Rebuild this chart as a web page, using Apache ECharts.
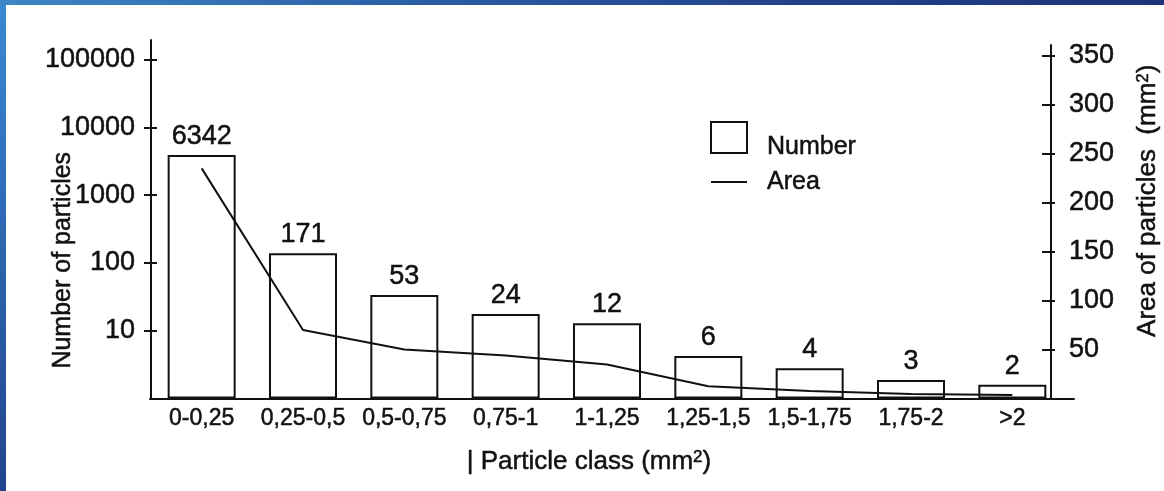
<!DOCTYPE html>
<html>
<head>
<meta charset="utf-8">
<script src="https://cdn.jsdelivr.net/npm/echarts@6/dist/echarts.min.js"></script>
<style>
  html, body { margin: 0; padding: 0; }
  body {
    width: 1164px; height: 491px; overflow: hidden; position: relative;
    background: linear-gradient(180deg, #3b8ad0 0%, #2f6db8 40%, #22448c 100%);
  }
  #topband {
    position: absolute; left: 0; top: 0; width: 1164px; height: 5px;
    background: linear-gradient(90deg, #3f86c6 0%, #2b5fa6 35%, #23408a 70%, #1d3478 100%);
  }
  #chart {
    position: absolute; left: 6px; top: 5px; width: 1158px; height: 486px;
    background: #ffffff;
  }
</style>
</head>
<body>
<div id="topband"></div>
<div id="chart"></div>
<script>
// ---- data ----
const categories = ['0-0,25', '0,25-0,5', '0,5-0,75', '0,75-1', '1-1,25', '1,25-1,5', '1,5-1,75', '1,75-2', '>2'];
// printed counts above the bars
const numberLabels = [6342, 171, 53, 24, 12, 6, 4, 3, 2];
// bar heights as drawn on the log axis
const numberBarHeights = [3930, 139, 33.7, 17.7, 12.9, 4.24, 2.79, 1.88, 1.60];
// area of particles (mm2), right axis
const areaValues = [235, 70, 50, 43.8, 34.7, 12.5, 7.6, 4.6, 3.6];
const leftTicks = [10, 100, 1000, 10000, 100000];
const rightTicks = [50, 100, 150, 200, 250, 300, 350];

const FONT = "'Liberation Sans', Arial, Helvetica, sans-serif";
const INK = '#111111';
const BOLDEN = { textBorderColor: INK, textBorderWidth: 0.5 };

const chart = echarts.init(document.getElementById('chart'), null, { renderer: 'canvas' });

const gridBase = { outerBoundsMode: 'none', containLabel: false, bottom: 92.5 };
const supStyle = Object.assign({ fontFamily: FONT, fontSize: 17, color: INK, verticalAlign: 'top', padding: [0, 0, 6, 0] }, BOLDEN);

const option = {
  animation: false,
  textStyle: { fontFamily: FONT, color: INK },
  grid: [
    Object.assign({ left: 145, right: 101, top: 35 }, gridBase),
    Object.assign({ left: 145, right: 101, top: 40 }, gridBase),
    Object.assign({ left: 144, right: 90, top: 35 }, gridBase)
  ],
  legend: {
    orient: 'vertical',
    left: 699,
    top: 111,
    itemWidth: 36,
    itemHeight: 31,
    itemGap: 9,
    formatter: name => name === 'Number' ? '{n|Number}' : '{a|Area}',
    textStyle: Object.assign({
      fontFamily: FONT, fontSize: 25, color: INK,
      rich: {
        n: Object.assign({ fontFamily: FONT, fontSize: 25, color: INK, padding: [20, 0, 0, 0] }, BOLDEN),
        a: Object.assign({ fontFamily: FONT, fontSize: 25, color: INK }, BOLDEN)
      }
    }, BOLDEN),
    data: [
      {
        name: 'Number', icon: 'rect',
        itemStyle: { color: '#ffffff', borderColor: INK, borderWidth: 2 },
        textStyle: { padding: [0, 0, 0, 15] }
      },
      {
        name: 'Area', icon: 'path://M0,0H36V2H0Z',
        itemStyle: { color: INK, borderWidth: 0 },
        textStyle: { padding: [0, 0, 0, 15] }
      }
    ]
  },
  xAxis: [
    {
      gridIndex: 0, type: 'category', data: categories,
      axisLine: { show: false }, axisTick: { show: false },
      axisLabel: Object.assign({ fontFamily: FONT, fontSize: 23, color: INK, margin: 9, interval: 0 }, BOLDEN),
      name: '| Particle class (mm{sup|2})',
      nameLocation: 'middle', nameGap: 50, nameMoveOverlap: false,
      nameTextStyle: Object.assign({
        fontFamily: FONT, fontSize: 26, color: INK, padding: [0, 36, 0, 0],
        rich: { sup: supStyle }
      }, BOLDEN)
    },
    { gridIndex: 1, type: 'category', data: categories, show: false },
    {
      gridIndex: 2, type: 'value', min: 0, max: 1,
      axisLine: { show: true, lineStyle: { color: INK, width: 2 } },
      axisTick: { show: false }, axisLabel: { show: false }, splitLine: { show: false }
    }
  ],
  yAxis: [
    {
      gridIndex: 0, type: 'log', logBase: 10, min: 1, max: 195000, position: 'left',
      axisLine: { show: true, lineStyle: { color: INK, width: 2 } },
      axisTick: { show: true, inside: false, length: 7, lineStyle: { color: INK, width: 2 }, customValues: leftTicks },
      axisLabel: Object.assign({
        fontFamily: FONT, fontSize: 27, color: INK, margin: 16, customValues: leftTicks,
        formatter: v => String(Math.round(v))
      }, BOLDEN),
      splitLine: { show: false }, minorTick: { show: false },
      name: 'Number of particles', nameLocation: 'middle', nameGap: 75, nameMoveOverlap: false,
      nameTextStyle: Object.assign({ fontFamily: FONT, fontSize: 25, color: INK, padding: [0, 82, 0, 0] }, BOLDEN)
    },
    {
      gridIndex: 0, type: 'log', logBase: 10, min: 1, max: 195000, position: 'left',
      axisLine: { show: false },
      axisTick: { show: true, inside: true, length: 6, lineStyle: { color: INK, width: 2 }, customValues: leftTicks },
      axisLabel: { show: false }, splitLine: { show: false }
    },
    {
      gridIndex: 1, type: 'value', min: 0, max: 361, position: 'right', offset: -12,
      axisLine: { show: true, lineStyle: { color: INK, width: 2 } },
      axisTick: { show: true, inside: false, length: 4, lineStyle: { color: INK, width: 2 }, customValues: rightTicks },
      axisLabel: Object.assign({ fontFamily: FONT, fontSize: 27, color: INK, margin: 18, customValues: rightTicks }, BOLDEN),
      splitLine: { show: false },
      name: 'Area of particles  (mm{sup|2})', nameLocation: 'middle', nameGap: 84, nameMoveOverlap: false,
      nameTextStyle: Object.assign({
        fontFamily: FONT, fontSize: 26, color: INK, padding: [0, 0, 0, 42],
        rich: { sup: supStyle }
      }, BOLDEN)
    },
    {
      gridIndex: 1, type: 'value', min: 0, max: 361, position: 'right', offset: -12,
      axisLine: { show: false },
      axisTick: { show: true, inside: true, length: 9, lineStyle: { color: INK, width: 2 }, customValues: rightTicks },
      axisLabel: { show: false }, splitLine: { show: false }
    },
    { gridIndex: 2, type: 'value', show: false, min: 0, max: 1 }
  ],
  series: [
    {
      name: 'Number', type: 'bar', xAxisIndex: 0, yAxisIndex: 0,
      data: numberBarHeights,
      barWidth: 68,
      itemStyle: { color: '#ffffff', borderColor: INK, borderWidth: 2 },
      label: Object.assign({
        show: true, position: 'top', distance: 5,
        fontFamily: FONT, fontSize: 27, color: INK,
        formatter: p => String(numberLabels[p.dataIndex])
      }, BOLDEN)
    },
    {
      name: 'Area', type: 'line', xAxisIndex: 1, yAxisIndex: 2,
      data: areaValues,
      symbol: 'none', showSymbol: false,
      lineStyle: { color: INK, width: 2 },
      itemStyle: { color: INK }
    }
  ]
};

chart.setOption(option);
</script>
</body>
</html>
